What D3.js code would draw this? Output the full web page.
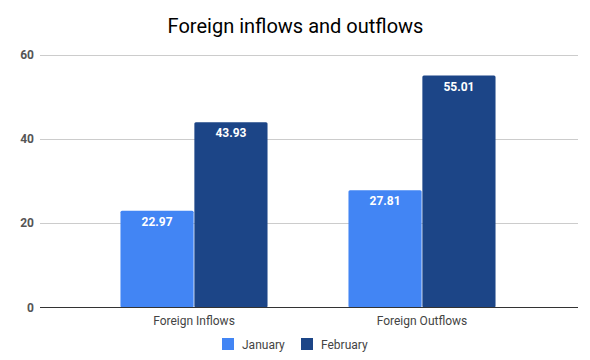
<!DOCTYPE html>
<html><head><meta charset="utf-8">
<script src="https://cdn.jsdelivr.net/npm/d3@7"></script>
<style>body{margin:0;background:#fff}svg{display:block;font-family:Roboto,Arial,sans-serif}</style>
</head><body>
<svg id="c" width="590" height="360"></svg>
<script>
const categories = ["Foreign Inflows", "Foreign Outflows"];
const seriesNames = ["January", "February"];
const january = [22.97, 27.81];
const february = [43.93, 55.01];
const yTicks = [0, 20, 40, 60];
const colors = ["#4285f4", "#1c4587"];

const svg = d3.select("#c");
const y = d3.scaleLinear().domain([0, 60]).range([307.5, 54.5]);
const x0 = d3.scaleBand().domain(categories).range([80, 536]).paddingInner(0.355).paddingOuter(0.1775);
const x1 = d3.scaleBand().domain(seriesNames).range([0, x0.bandwidth()]).paddingInner(0.01);

svg.append("text").attr("x", 295.5).attr("y", 33).attr("text-anchor", "middle")
  .attr("font-size", 20).attr("fill", "#000").text("Foreign inflows and outflows");

// gridlines
svg.append("g").selectAll("line").data(yTicks.filter(d => d !== 0)).join("line")
  .attr("x1", 40).attr("x2", 578).attr("y1", d => Math.round(y(d)) + 0.5).attr("y2", d => Math.round(y(d)) + 0.5)
  .attr("stroke", "#cccccc").attr("stroke-width", 1);

// y labels
svg.append("g").selectAll("text").data(yTicks).join("text")
  .attr("x", 34).attr("y", d => y(d) + 4).attr("text-anchor", "end")
  .attr("font-size", 12).attr("font-weight", "bold").attr("fill", "#555").text(d => d);

const data = categories.map((c, i) => ({ cat: c, vals: [january[i], february[i]] }));
const groups = svg.append("g").selectAll("g").data(data).join("g")
  .attr("transform", d => `translate(${x0(d.cat)},0)`);

groups.selectAll("rect").data(d => d.vals.map((v, j) => ({ s: seriesNames[j], v, j }))).join("rect")
  .attr("x", d => x1(d.s)).attr("width", x1.bandwidth())
  .attr("y", d => y(d.v)).attr("height", d => y(0) - y(d.v))
  .attr("rx", 1.5)
  .attr("fill", d => colors[d.j]);

groups.selectAll("text").data(d => d.vals.map((v, j) => ({ s: seriesNames[j], v, j }))).join("text")
  .attr("x", d => x1(d.s) + x1.bandwidth() / 2).attr("y", d => y(d.v) + 15)
  .attr("text-anchor", "middle").attr("font-size", 12).attr("font-weight", "bold")
  .attr("fill", "#fff").text(d => d.v.toFixed(2));

// zero axis
svg.append("line").attr("x1", 40).attr("x2", 578).attr("y1", 307.5).attr("y2", 307.5)
  .attr("stroke", "#333").attr("stroke-width", 1);

// category labels
svg.append("g").selectAll("text").data(categories).join("text")
  .attr("x", d => x0(d) + x0.bandwidth() / 2).attr("y", 325).attr("text-anchor", "middle")
  .attr("font-size", 12).attr("fill", "#444").text(d => d);

// legend
const legX = [222, 301];
const leg = svg.append("g").selectAll("g").data(seriesNames).join("g")
  .attr("transform", (d, i) => `translate(${legX[i]},338)`);
leg.append("rect").attr("width", 12).attr("height", 12).attr("fill", (d, i) => colors[i]);
leg.append("text").attr("x", 20).attr("y", 10.5).attr("font-size", 12).attr("fill", "#444").text(d => d);
</script>
</body></html>
